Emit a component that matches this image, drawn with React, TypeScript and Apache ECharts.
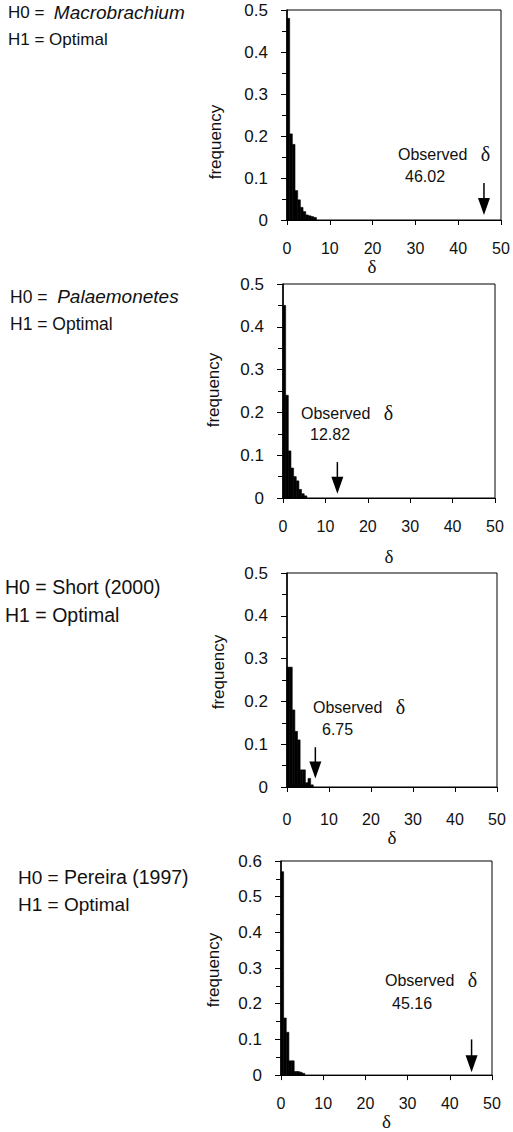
import React, { useEffect, useRef } from "react";
import * as echarts from "echarts";

// ---- data ----
const binWidth = 0.625;
const macroFreq = [0.48, 0.205, 0.18, 0.07, 0.048, 0.03, 0.02, 0.012, 0.01, 0.008, 0.006];
const palaeFreq = [0.45, 0.24, 0.11, 0.07, 0.05, 0.04, 0.02, 0.01, 0.005];
const shortFreq = [0.28, 0.28, 0.18, 0.13, 0.11, 0.04, 0.04, 0.01, 0.02, 0.005];
const pereiraFreq = [0.57, 0.16, 0.12, 0.04, 0.04, 0.01, 0.01, 0.008, 0.005];
const observedDelta = [46.02, 12.82, 6.75, 45.16];
const observedLabels = ["46.02", "12.82", "6.75", "45.16"];
const arrowTop = [0.088, 0.084, 0.093, 0.1];
const arrowTip = [0.012, 0.01, 0.02, 0.008];
const yMaxes = [0.5, 0.5, 0.5, 0.6];
const xMin = 0;
const xMax = 50;
const xInterval = 10;
const yInterval = 0.1;
const h0Names = ["Macrobrachium", "Palaemonetes", "Short (2000)", "Pereira (1997)"];
const h0Italic = [true, true, false, false];
const h1Name = "Optimal";

const allFreq = [macroFreq, palaeFreq, shortFreq, pereiraFreq];

// ---- layout ----
const grids = [
  { left: 287, top: 10, width: 214, height: 210 },
  { left: 283, top: 284, width: 212, height: 214 },
  { left: 287, top: 573, width: 210, height: 214 },
  { left: 281, top: 861, width: 211, height: 216 },
];
const xNameGaps = [31, 49, 41, 30];
const xNameShift = [44, 0, 0, 0];
const xLabelMargins = [20, 20, 24, 20];
const freqPos = [
  { x: 215, y: 142 },
  { x: 213, y: 390 },
  { x: 218, y: 672 },
  { x: 213, y: 970 },
];
const h0Pos = [
  { x: 8, y: 14 },
  { x: 10, y: 298 },
  { x: 5, y: 588 },
  { x: 18, y: 878 },
];
const h0Size = [17, 17.5, 19.5, 19];
const h0NameSize = [19, 19, 19.5, 19.5];
const obsPos = [
  { x: 398, y: 154, vx: 405, vy: 177 },
  { x: 301, y: 413, vx: 310, vy: 435 },
  { x: 313, y: 707, vx: 322, vy: 730 },
  { x: 385, y: 980, vx: 392, vy: 1004 },
];

const SANS = "'Liberation Sans', Arial, sans-serif";
const SERIF = "'Liberation Serif', 'DejaVu Serif', serif";

export default function App() {
  const ref = useRef<HTMLDivElement>(null);

  useEffect(() => {
    if (!ref.current) return;
    const chart = echarts.init(ref.current, undefined, { renderer: "svg" });

    const gridOpt = grids.map((g) => ({
      ...g,
      show: true,
      borderColor: "#000",
      borderWidth: 1,
      containLabel: false,
    }));

    const xAxes = grids.map((_, i) => ({
      type: "value",
      gridIndex: i,
      min: xMin,
      max: xMax,
      interval: xInterval,
      name: "δ",
      nameLocation: "middle",
      nameGap: xNameGaps[i],
      nameTextStyle: {
        fontFamily: SERIF,
        fontSize: 19,
        color: "#111",
        padding: [0, xNameShift[i], 0, 0],
      },
      axisLine: { show: true, lineStyle: { color: "#000", width: 1 } },
      axisTick: { show: true, inside: false, length: 5, lineStyle: { color: "#000" } },
      axisLabel: { margin: xLabelMargins[i], fontFamily: SANS, fontSize: 16, color: "#111" },
      splitLine: { show: false },
    }));

    const yAxes = grids.map((_, i) => ({
      type: "value",
      gridIndex: i,
      min: 0,
      max: yMaxes[i],
      interval: yInterval,
      axisLine: { show: true, lineStyle: { color: "#000", width: 1.5 } },
      axisTick: { show: true, inside: false, length: 6, lineStyle: { color: "#000" } },
      minorTick: { show: true, splitNumber: 2, length: 5, lineStyle: { color: "#000" } },
      axisLabel: {
        margin: 19,
        fontFamily: SANS,
        fontSize: 17,
        color: "#111",
        formatter: (v: number) => (v === 0 ? "0" : String(Math.round(v * 10) / 10)),
      },
      splitLine: { show: false },
    }));

    const series: any[] = [];
    allFreq.forEach((freq, i) => {
      series.push({
        type: "custom",
        xAxisIndex: i,
        yAxisIndex: i,
        data: freq.map((f, k) => [k * binWidth, (k + 1) * binWidth, f]),
        renderItem: (_p: any, api: any) => {
          const p0 = api.coord([api.value(0), api.value(2)]);
          const p1 = api.coord([api.value(1), 0]);
          return {
            type: "rect",
            shape: { x: p0[0], y: p0[1], width: p1[0] - p0[0], height: p1[1] - p0[1] },
            style: { fill: "#000", stroke: "#000", lineWidth: 0.6 },
          };
        },
        silent: true,
      });
      series.push({
        type: "custom",
        xAxisIndex: i,
        yAxisIndex: i,
        data: [[observedDelta[i], arrowTop[i], arrowTip[i]]],
        renderItem: (_p: any, api: any) => {
          const top = api.coord([api.value(0), api.value(1)]);
          const tip = api.coord([api.value(0), api.value(2)]);
          const headH = 17;
          const halfW = 6;
          return {
            type: "group",
            children: [
              {
                type: "line",
                shape: { x1: top[0], y1: top[1], x2: tip[0], y2: tip[1] - headH + 2 },
                style: { stroke: "#000", lineWidth: 1.5 },
              },
              {
                type: "polygon",
                shape: {
                  points: [
                    [tip[0] - halfW, tip[1] - headH],
                    [tip[0] + halfW, tip[1] - headH],
                    [tip[0], tip[1]],
                  ],
                },
                style: { fill: "#000" },
              },
            ],
          };
        },
        silent: true,
      });
    });

    const graphics: any[] = [];
    h0Names.forEach((name, i) => {
      graphics.push({
        type: "text",
        left: h0Pos[i].x,
        top: h0Pos[i].y - 11,
        style: {
          text: (h0Italic[i] ? "H0 =  " : "H0 = ") + "{n|" + name + "}",
          fontFamily: SANS,
          fontSize: h0Size[i],
          fill: "#111",
          rich: {
            n: {
              fontFamily: SANS,
              fontSize: h0NameSize[i],
              fontStyle: h0Italic[i] ? "italic" : "normal",
              fill: "#111",
            },
          },
        },
      });
      graphics.push({
        type: "text",
        left: h0Pos[i].x,
        top: h0Pos[i].y + 28 - 11,
        style: { text: "H1 = " + h1Name, fontFamily: SANS, fontSize: h0Size[i], fill: "#111" },
      });
      graphics.push({
        type: "text",
        x: freqPos[i].x,
        y: freqPos[i].y,
        rotation: Math.PI / 2,
        style: {
          text: "frequency",
          fontFamily: SANS,
          fontSize: 17,
          fill: "#111",
          align: "center",
          verticalAlign: "middle",
        },
      });
      graphics.push({
        type: "text",
        left: obsPos[i].x,
        top: obsPos[i].y - 10,
        style: {
          text: "Observed   {d|δ}",
          fontFamily: SANS,
          fontSize: 16,
          fill: "#111",
          rich: { d: { fontFamily: SERIF, fontSize: 20, fill: "#111" } },
        },
      });
      graphics.push({
        type: "text",
        left: obsPos[i].vx,
        top: obsPos[i].vy - 9,
        style: { text: observedLabels[i], fontFamily: SANS, fontSize: 16, fill: "#111" },
      });
    });

    chart.setOption({
      animation: false,
      backgroundColor: "#fff",
      grid: gridOpt,
      xAxis: xAxes,
      yAxis: yAxes,
      series,
      graphic: graphics,
    });

    return () => chart.dispose();
  }, []);

  return (
    <div
      ref={ref}
      style={{ position: "absolute", left: 0, top: 0, width: 513, height: 1132, background: "#fff" }}
    />
  );
}
